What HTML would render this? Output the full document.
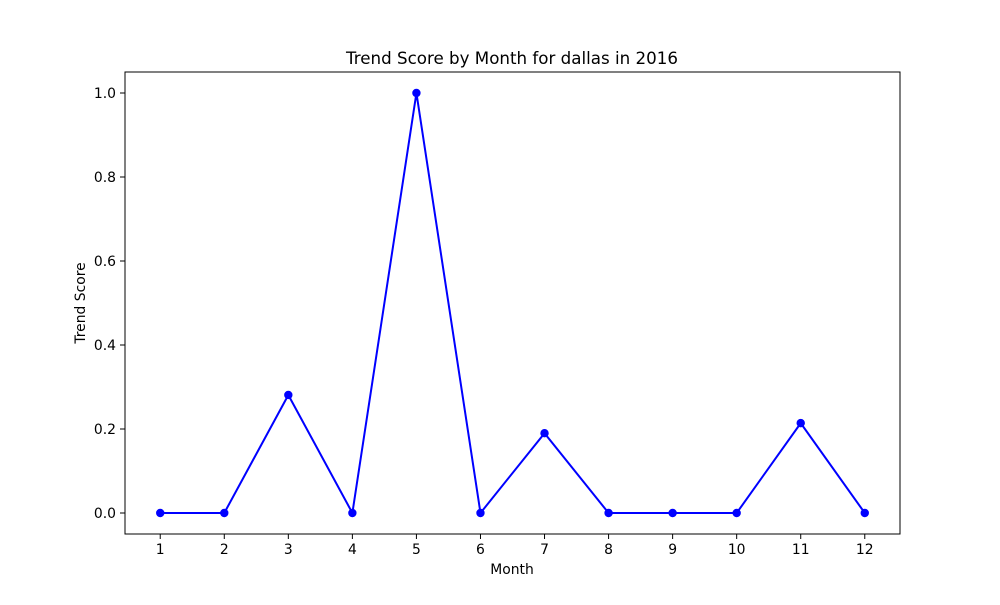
<!DOCTYPE html>
<html><head><meta charset="utf-8"><style>
body{margin:0;background:#fff;font-family:"Liberation Sans","DejaVu Sans",sans-serif}
</style></head><body>
<svg id="chart" width="1000" height="600" xmlns="http://www.w3.org/2000/svg" font-family="DejaVu Sans, Liberation Sans, sans-serif"></svg>
<script>
const months=[1,2,3,4,5,6,7,8,9,10,11,12];
const scores=[0,0,0.281,0,1,0,0.19,0,0,0,0.214,0];
const yTicks=[0,0.2,0.4,0.6,0.8,1.0];
const yTickLabels=["0.0","0.2","0.4","0.6","0.8","1.0"];
const L=125,R=900,T=72,B=534;
const xMin=0.45,xMax=12.55,yMin=-0.05,yMax=1.05;
const sx=v=>L+(v-xMin)/(xMax-xMin)*(R-L);
const sy=v=>B-(v-yMin)/(yMax-yMin)*(B-T);
const svg=document.getElementById('chart');
const NS="http://www.w3.org/2000/svg";
function mk(tag,attrs,parent){const e=document.createElementNS(NS,tag);for(const k in attrs)e.setAttribute(k,attrs[k]);(parent||svg).appendChild(e);return e;}
let t=mk('text',{x:512,y:64,'text-anchor':'middle','font-size':16.7,fill:'#000'});


t.textContent='Trend Score by Month for dallas in 2016';
months.forEach(m=>{
  const x=sx(m);
  const l=mk('line',{x1:x,x2:x,y1:B,y2:B+5,stroke:'#000','stroke-width':1});
  
  
  const tx=mk('text',{x:x,y:B+20,'text-anchor':'middle','font-size':13.9,fill:'#000'});
  
  
  tx.textContent=m;
});
yTicks.forEach((v,i)=>{
  const y=sy(v);
  const l=mk('line',{x1:L-5,x2:L,y1:y,y2:y,stroke:'#000','stroke-width':1});
  
  
  const tx=mk('text',{x:L-9,y:y+5,'text-anchor':'end','font-size':13.9,fill:'#000'});
  
  
  tx.textContent=yTickLabels[i];
});
let xl=mk('text',{x:512,y:574,'text-anchor':'middle','font-size':13.9,fill:'#000'});


xl.textContent='Month';
let yl=mk('text',{x:85,y:303,'text-anchor':'middle','font-size':13.9,fill:'#000',transform:'rotate(-90 85 303)'});


yl.textContent='Trend Score';
let line=mk('polyline',{points:months.map((m,i)=>sx(m)+','+sy(scores[i])).join(' '),fill:'none',stroke:'#0000ff','stroke-width':2});


months.forEach((m,i)=>{
  const c=mk('circle',{cx:sx(m),cy:sy(scores[i]),r:4.2,fill:'#0000ff'});
  
  
});
let fr=mk('rect',{x:L,y:T,width:R-L,height:B-T,fill:'none',stroke:'#000','stroke-width':1});


</script>
</body></html>
